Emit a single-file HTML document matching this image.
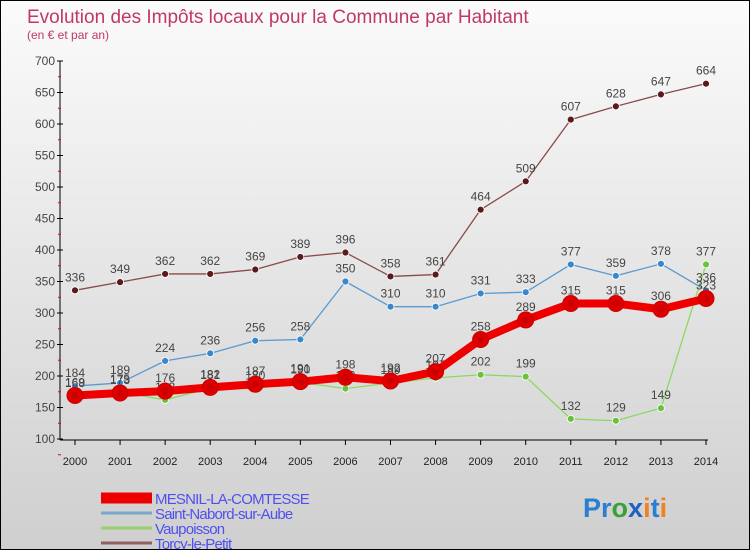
<!DOCTYPE html>
<html><head><meta charset="utf-8"><style>
html,body{margin:0;padding:0}
body{width:750px;height:550px;overflow:hidden;font-family:"Liberation Sans",sans-serif}
#wrap{position:relative;width:748px;height:548px;border:1px solid #000;background:linear-gradient(#fbfbfb,#cfcfcf)}
</style></head><body>
<div id="wrap">
<svg id="chart" width="748" height="548">
<text x="26" y="22" font-size="19" fill="#c0386a">Evolution des Impôts locaux pour la Commune par Habitant</text>
<text x="26" y="38" font-size="12" fill="#c0386a">(en € et par an)</text>
<g id="axes"></g><g id="series"></g><g id="legend"></g>
<text x="582" y="516" font-size="27" font-weight="bold"><tspan fill="#2a7fd0">Pr</tspan><tspan fill="#3aa03a">o</tspan><tspan fill="#2060c0">x</tspan><tspan fill="#f08020">i</tspan><tspan fill="#2a7fd0">t</tspan><tspan fill="#f08020">i</tspan></text>
</svg></div>
<script>
const years=[2000,2001,2002,2003,2004,2005,2006,2007,2008,2009,2010,2011,2012,2013,2014];
const yTicks=[100,150,200,250,300,350,400,450,500,550,600,650,700];
const mesnil=[169,173,176,182,187,191,198,192,207,258,289,315,315,306,323];
const nabord=[184,189,224,236,256,258,350,310,310,331,333,377,359,378,336];
const vaup=[168,175,162,181,180,190,180,189,197,202,199,132,129,149,377];
const torcy=[336,349,362,362,369,389,396,358,361,464,509,607,628,647,664];
const names=["MESNIL-LA-COMTESSE","Saint-Nabord-sur-Aube","Vaupoisson","Torcy-le-Petit"];
const NS="http://www.w3.org/2000/svg";
const X=i=>74+i*(631/14), Y=v=>438-(v-100)*(378/600);
function mk(t,a,p){const e=document.createElementNS(NS,t);for(const k in a)e.setAttribute(k,a[k]);p.appendChild(e);return e;}
const ax=document.getElementById('axes');
mk('line',{x1:59,y1:60,x2:59,y2:439,stroke:'#000'},ax);
mk('line',{x1:59,y1:439,x2:707,y2:439,stroke:'#000'},ax);
yTicks.forEach(v=>{const y=Y(v);
 mk('line',{x1:56,y1:y,x2:62,y2:y,stroke:'#000'},ax);
 mk('line',{x1:57,y1:y+15.75,x2:60,y2:y+15.75,stroke:'#e00'},ax);
 const t=mk('text',{x:54,y:y+4,'font-size':12,fill:'#444','text-anchor':'end'},ax);t.textContent=v;
 });
years.forEach((yr,i)=>{const x=X(i);
 mk('line',{x1:x,y1:439,x2:x,y2:444,stroke:'#000'},ax);
 const t=mk('text',{x:x,y:464,'font-size':11,fill:'#222','text-anchor':'middle'},ax);t.textContent=yr;
 });
const sg=document.getElementById('series');
const defs=[[torcy,'#6a1a22','#8a4a4a',1.3,3.5,'#5a1a1a'],[vaup,'#8cd860','#8cd860',1.3,3.5,'#6cc040'],[nabord,'#5a9ad0','#5a9ad0',1.3,3.5,'#3a88cc'],[mesnil,'#ee0000','#ee0000',8,8,'#dd0000']];
defs.forEach(([d,c,lc,w,r,fc],k)=>{
 const g=mk('g',{},sg);
 
 
 mk('polyline',{points:d.map((v,i)=>X(i)+','+Y(v)).join(' '),fill:'none',stroke:lc,'stroke-width':w,'stroke-linejoin':'round'},g);
 d.forEach((v,i)=>{
  const c1=mk('circle',{cx:X(i),cy:Y(v),r:r,fill:fc,stroke:k==3?'#c00':'#fff','stroke-width':k==3?1:0.8},g);
  
  if(k==3)mk('circle',{cx:X(i),cy:Y(v),r:3.5,fill:'#c00'},g);
  const t=mk('text',{x:X(i),y:Y(v)-9,'font-size':12,fill:'#444','text-anchor':'middle'},g);t.textContent=v;
  
 });
});
const lg=document.getElementById('legend');
const lc=['#ee0000','#7aa8cc','#98d070','#906060'],lw=[11,3,3,3];
names.forEach((n,i)=>{const y=497+i*15;
 const g=mk('g',{},lg);
 mk('line',{x1:100,y1:y,x2:151,y2:y,stroke:lc[i],'stroke-width':lw[i]},g);
 const t=mk('text',{x:154,y:y+6,'font-size':15,fill:'#5050f0','letter-spacing':'-0.8'},g);t.textContent=n;
});
</script>
</body></html>
